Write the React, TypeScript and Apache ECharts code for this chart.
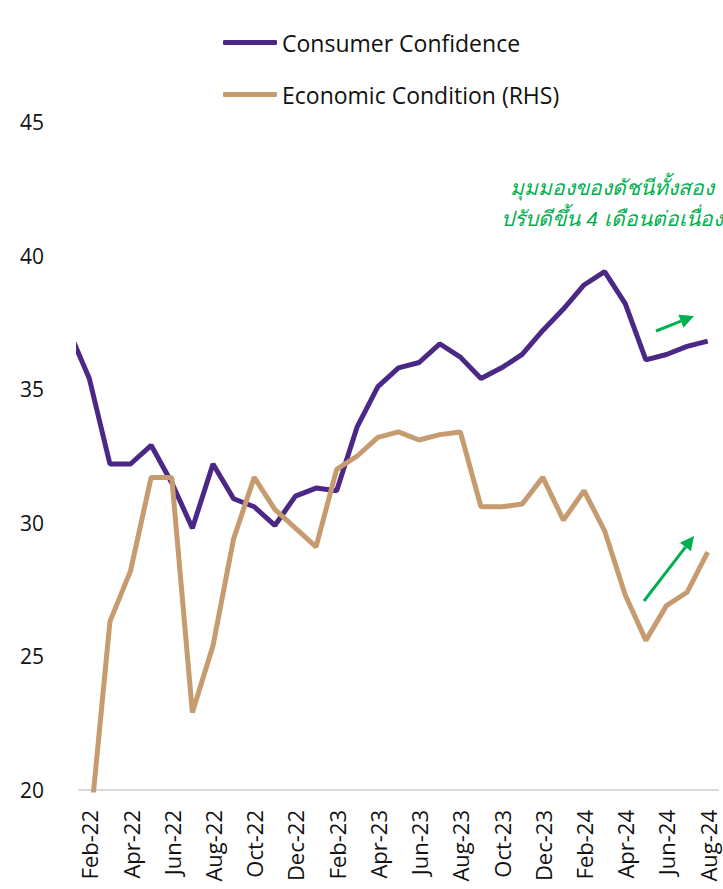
import React, { useEffect, useRef } from "react";
import * as echarts from "echarts";

// Months, Jan-22 is only a partly visible lead-in point (clipped at the plot edge)
const months = [
  "Jan-22", "Feb-22", "Mar-22", "Apr-22", "May-22", "Jun-22", "Jul-22", "Aug-22",
  "Sep-22", "Oct-22", "Nov-22", "Dec-22", "Jan-23", "Feb-23", "Mar-23", "Apr-23",
  "May-23", "Jun-23", "Jul-23", "Aug-23", "Sep-23", "Oct-23", "Nov-23", "Dec-23",
  "Jan-24", "Feb-24", "Mar-24", "Apr-24", "May-24", "Jun-24", "Jul-24", "Aug-24",
];
const categories = months.slice(1);

const consumerConfidence = [
  37.2, 35.4, 32.2, 32.2, 32.9, 31.5, 29.8, 32.2,
  30.9, 30.6, 29.9, 31.0, 31.3, 31.2, 33.6, 35.1,
  35.8, 36.0, 36.7, 36.2, 35.4, 35.8, 36.3, 37.2,
  38.0, 38.9, 39.4, 38.2, 36.1, 36.3, 36.6, 36.8,
];
const economicCondition = [
  null, 18.3, 26.3, 28.2, 31.7, 31.7, 22.9, 25.4,
  29.4, 31.7, 30.5, 29.8, 29.1, 32.0, 32.5, 33.2,
  33.4, 33.1, 33.3, 33.4, 30.6, 30.6, 30.7, 31.7,
  30.1, 31.2, 29.7, 27.3, 25.6, 26.9, 27.4, 28.9,
];
const yTicks = [20, 45, 5];

const PURPLE = "#4B2886";
const BROWN = "#C59B6F";
const GREEN = "#00B050";
const FONT = "Open Sans";

function arrow(x1: number, y1: number, x2: number, y2: number) {
  const ang = Math.atan2(y2 - y1, x2 - x1);
  const L = 14, W = 7;
  const bx = x2 - L * Math.cos(ang), by = y2 - L * Math.sin(ang);
  const px = -Math.sin(ang) * W, py = Math.cos(ang) * W;
  return [
    { type: "line", shape: { x1, y1, x2: bx, y2: by }, style: { stroke: GREEN, lineWidth: 3 } },
    { type: "polygon", shape: { points: [[x2, y2], [bx + px, by + py], [bx - px, by - py]] }, style: { fill: GREEN } },
  ];
}

export default function App() {
  const ref = useRef<HTMLDivElement>(null);
  useEffect(() => {
    if (!ref.current) return;
    const chart = echarts.init(ref.current, undefined, { renderer: "svg" });
    chart.setOption({
      animation: false,
      backgroundColor: "#ffffff",
      textStyle: { fontFamily: FONT },
      grid: { left: 79, right: 5, top: 122, bottom: 99 },
      legend: {
        orient: "vertical",
        left: 218,
        top: 24,
        icon: "roundRect",
        itemWidth: 54,
        itemHeight: 5,
        itemGap: 25,
        textStyle: { fontSize: 23, color: "#111", lineHeight: 27, fontFamily: FONT },
        data: ["Consumer Confidence", "Economic Condition (RHS)"],
      },
      xAxis: [
        {
          type: "category",
          data: categories,
          boundaryGap: true,
          axisLine: { lineStyle: { color: "#d9d9d9", width: 2 } },
          axisTick: { interval: 1, length: 8, lineStyle: { color: "#d9d9d9", width: 2 } },
          axisLabel: { interval: 1, rotate: 90, fontSize: 22, color: "#111", margin: 20, fontFamily: FONT },
          splitLine: { show: false },
        },
        { type: "value", min: -0.5, max: categories.length - 0.5, show: false },
      ],
      yAxis: [
        {
          type: "value",
          min: yTicks[0],
          max: yTicks[1],
          interval: yTicks[2],
          axisLine: { show: false },
          axisTick: { show: false },
          splitLine: { show: false },
          axisLabel: { fontSize: 21, color: "#111", margin: 35, fontFamily: FONT },
        },
        { type: "value", min: yTicks[0], max: yTicks[1], interval: yTicks[2], show: false },
      ],
      series: [
        {
          name: "Consumer Confidence",
          type: "line",
          xAxisIndex: 1,
          yAxisIndex: 0,
          showSymbol: false,
          clip: true,
          lineStyle: { color: PURPLE, width: 5 },
          itemStyle: { color: PURPLE },
          data: consumerConfidence.map((v, i) => [i - 1, v]),
        },
        {
          name: "Economic Condition (RHS)",
          type: "line",
          xAxisIndex: 1,
          yAxisIndex: 1,
          showSymbol: false,
          clip: true,
          lineStyle: { color: BROWN, width: 5 },
          itemStyle: { color: BROWN },
          data: economicCondition.map((v, i) => [i - 1, v]),
        },
      ],
      graphic: [
        {
          type: "text",
          x: 612,
          y: 187,
          style: {
            text: "มุมมองของดัชนีทั้งสอง",
            fill: GREEN,
            fontSize: 21,
            fontStyle: "italic",
            align: "center",
            verticalAlign: "middle",
          },
        },
        {
          type: "text",
          x: 612,
          y: 218,
          style: {
            text: "ปรับดีขึ้น 4 เดือนต่อเนื่อง",
            fill: GREEN,
            fontSize: 21,
            fontStyle: "italic",
            align: "center",
            verticalAlign: "middle",
          },
        },
        ...arrow(656, 331, 694, 316),
        ...arrow(644, 601, 694, 536),
      ],
    });
    return () => chart.dispose();
  }, []);
  return (
    <div
      ref={ref}
      style={{ position: "fixed", left: 0, top: 0, width: 723, height: 889 }}
    />
  );
}
